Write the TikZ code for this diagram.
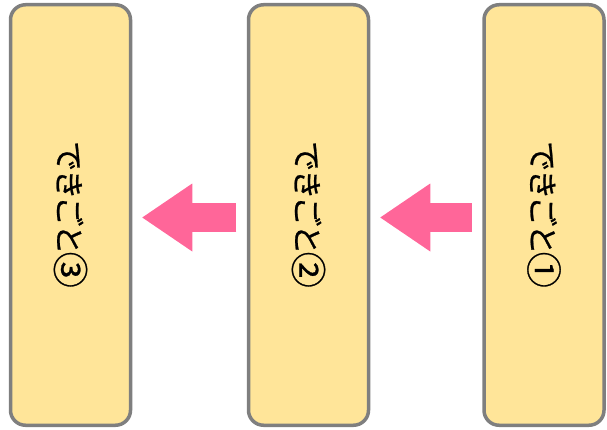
\documentclass[tikz,border=0pt]{standalone}
\usepackage{fontspec}
\newfontfamily\jpfont[FakeBold=0.8, RawFeature=+palt, LetterSpace=3]{Noto Sans CJK JP}
\usepackage{graphicx}
\usetikzlibrary{arrows.meta}
\definecolor{boxfill}{HTML}{FFE599}
\definecolor{boxline}{HTML}{7F7F7F}
\definecolor{arrowpink}{HTML}{FF6699}
\newcommand{\eventtext}[1]{\rotatebox{-90}{できごと\raisebox{-0.04em}{\scalebox{1.2}{#1}}}}
\begin{document}
\begin{tikzpicture}[x=1pt, y=1pt,
    eventbox/.style={draw=boxline, fill=boxfill, line width=3.5pt, rounded corners=15pt,
        minimum width=120pt, minimum height=420.5pt, inner sep=0pt, font=\jpfont\fontsize{30}{36}\selectfont},
    bigarrow/.style={arrowpink, line width=29.5pt, shorten <=10.5pt, shorten >=10pt,
        -{Triangle[length=50pt, width=68pt, line width=0pt]}}]
    \useasboundingbox (0,0) rectangle (607,429);

    % Events, newest on the left
    \node[eventbox] (e1) at (70.5, 214) {\eventtext{③}};
    \node[eventbox] (e2) at (308.5, 214) {\eventtext{②}};
    \node[eventbox] (e3) at (544, 214) {\eventtext{①}};

    % Arrows between the events
    \draw[bigarrow] ([yshift=-2.5pt]e2.west) -- ([yshift=-2.5pt]e1.east);
    \draw[bigarrow] ([yshift=-2.5pt]e3.west) -- ([yshift=-2.5pt]e2.east);
\end{tikzpicture}
\end{document}
